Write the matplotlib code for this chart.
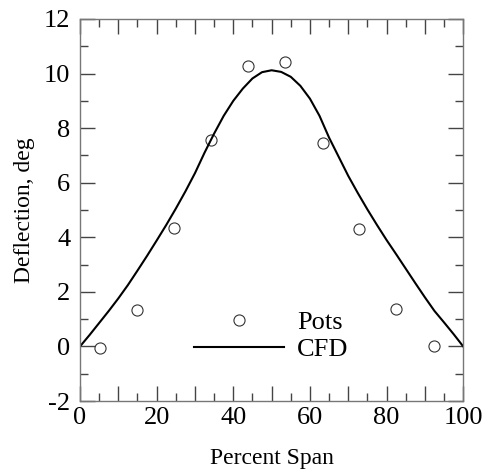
import matplotlib
matplotlib.use('Agg')
import matplotlib.pyplot as plt
from matplotlib.ticker import MultipleLocator, FuncFormatter

plt.rcParams['font.family'] = ['Liberation Serif', 'DejaVu Serif']
plt.rcParams['axes.unicode_minus'] = False

# measured deflection (Pots)
pots_span = [5.2, 14.8, 24.5, 34.2, 43.9, 53.5, 63.3, 72.9, 82.5, 92.3]
pots_defl = [-0.05, 1.34, 4.34, 7.57, 10.26, 10.42, 7.44, 4.31, 1.38, 0.02]

# CFD prediction
cfd_span = [0, 2.5, 5, 7.5, 10, 12.5, 15, 17.5, 20, 22.5, 25, 27.5, 30, 32.5, 35, 37.5, 40,
            42.5, 45, 47.5, 50, 52.5, 55, 57.5, 60, 62.5, 65, 67.5, 70, 72.5, 75, 77.5, 80,
            82.5, 85, 87.5, 90, 92.5, 95, 97.5, 100]
cfd_defl = [0, 0.42, 0.86, 1.3, 1.76, 2.25, 2.78, 3.32, 3.88, 4.45, 5.05, 5.68, 6.35, 7.1, 7.8,
            8.45, 9.0, 9.45, 9.82, 10.05, 10.12, 10.06, 9.88, 9.55, 9.08, 8.45, 7.65, 6.95, 6.25,
            5.62, 5.02, 4.45, 3.9, 3.38, 2.85, 2.32, 1.8, 1.3, 0.88, 0.45, 0]

fig = plt.figure(figsize=(4.82, 4.74), dpi=100)
ax = fig.add_axes([0.166, 0.154, 0.795, 0.806])

ax.plot(pots_span, pots_defl, 'o', ms=8, mfc='none', mec='#333333', mew=0.8, label='Pots')
ax.plot(cfd_span, cfd_defl, '-', color='black', lw=1.5, label='CFD')

ax.set_xlim(0, 100)
ax.set_ylim(-2, 12)
ax.xaxis.set_major_locator(MultipleLocator(10))
ax.xaxis.set_minor_locator(MultipleLocator(5))
ax.xaxis.set_major_formatter(FuncFormatter(lambda v, p: f'{v:.0f}' if round(v) % 20 == 0 else ''))
ax.yaxis.set_major_locator(MultipleLocator(2))
ax.yaxis.set_minor_locator(MultipleLocator(1))

ax.tick_params(which='both', direction='in', top=True, right=True, color='#444444', width=1)
ax.tick_params(which='major', length=11, labelsize=19)
ax.tick_params(axis='x', which='major', pad=4)
ax.tick_params(axis='y', which='major', pad=7)
ax.tick_params(which='minor', length=6)
for s in ax.spines.values():
    s.set_color('#777777')
    s.set_linewidth(1)

ax.set_xlabel('Percent Span', fontsize=17, labelpad=14)
ax.set_ylabel('Deflection, deg', fontsize=17, labelpad=6)

ax.legend(loc='upper left', bbox_to_anchor=(0.298, 0.237), frameon=False, fontsize=19,
          handlelength=3.4, handletextpad=0.5, borderpad=0, borderaxespad=0, labelspacing=0.15)

fig.savefig('out.png', dpi=100)
